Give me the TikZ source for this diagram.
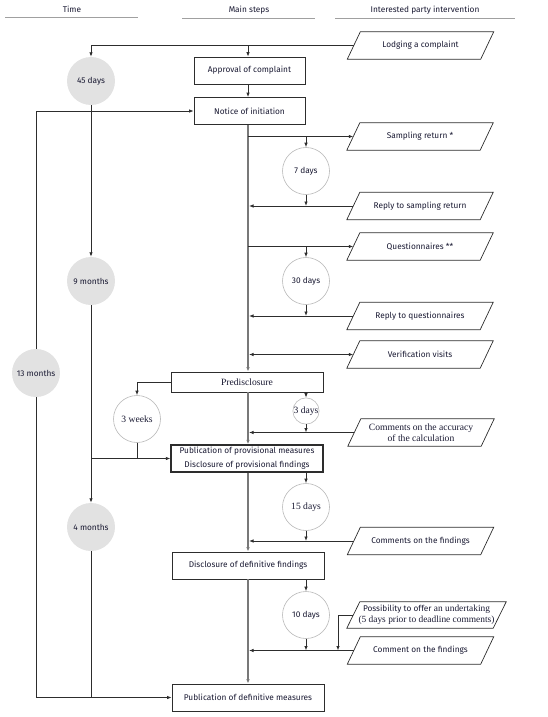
\documentclass[tikz,border=0pt]{standalone}
\usepackage{fontspec}
\setmainfont{Liberation Serif}
\setsansfont{Fira Sans}
\usetikzlibrary{arrows.meta,calc}
\definecolor{txt}{RGB}{25,25,50}
\definecolor{ln}{RGB}{45,45,45}
\definecolor{mainln}{RGB}{120,120,120}
\definecolor{cfill}{RGB}{226,226,226}
\definecolor{cline}{RGB}{185,185,185}
\definecolor{hdr}{RGB}{160,160,160}
\newcommand{\sansf}{\sffamily\fontsize{8.3}{10}\selectfont}
\newcommand{\seriff}{\rmfamily\fontsize{9.6}{11.5}\selectfont}
\tikzset{
  sanstxt/.style={font=\sansf, text=txt},
  seriftxt/.style={font=\seriff, text=txt},
  stepbox/.style={draw=ln, line width=0.8pt, rectangle, inner sep=0pt, minimum height=27pt, sanstxt, align=center},
  para/.style={rectangle, inner sep=0pt, minimum width=133pt, minimum height=27pt, sanstxt, align=center},
  parashape/.style={draw=ln, line width=0.7pt},
  timec/.style={circle, fill=cfill, inner sep=0pt, minimum size=48pt, sanstxt},
  durc/.style={circle, draw=cline, fill=white, line width=0.6pt, inner sep=0pt, minimum size=47pt, seriftxt},
  conn/.style={draw=ln, line width=0.8pt},
  arr/.style={conn, -{Latex[length=4.5pt,width=3.5pt]}},
  mainarr/.style={draw=mainln, line width=1.4pt, -{Latex[length=4.5pt,width=3.5pt]}},
}
\begin{document}
\begin{tikzpicture}[x=1pt,y=-1pt]
\useasboundingbox (0,0) rectangle (548,717);
\coordinate (mainx) at (248,0);
% headers
\node[sanstxt] (hTime) at (72,9) {Time};
\node[sanstxt] (hMain) at (249,10) {Main steps};
\node[sanstxt] (hInt) at (425,10) {Interested party intervention};
\draw[hdr, line width=0.8pt] (5,17) -- (138,17);
\draw[hdr, line width=0.8pt] (182,18) -- (315,18);
\draw[hdr, line width=0.8pt] (335,18) -- (515,18);
% main step boxes
\node[stepbox, minimum width=111pt] (appr) at (249.5,70.5) {Approval of complaint};
\node[stepbox, minimum width=111pt] (notice) at (249.5,111) {Notice of initiation};
\node[stepbox, minimum width=152pt, minimum height=20pt, seriftxt] (pred) at (247,382) {Predisclosure};
\node[stepbox, minimum width=152pt, line width=1.3pt, font=\sffamily\fontsize{8.3}{14}\selectfont] (pubp) at (247,458.5) {Publication of provisional measures\\Disclosure of provisional findings};
\node[stepbox, minimum width=152pt] (disc) at (248,565.5) {Disclosure of definitive findings};
\node[stepbox, minimum width=152pt] (pubd) at (248,697.5) {Publication of definitive measures};
% parallelograms
\node[para] (lodge) at (420.5,45.5) {Lodging a complaint};
\node[para] (samp) at (420,136.5) {Sampling return *};
\node[para] (reps) at (420,206) {Reply to sampling return};
\node[para] (quest) at (420,246.5) {Questionnaires **};
\node[para] (repq) at (420,316) {Reply to questionnaires};
\node[para] (verif) at (420,354.5) {Verification visits};
\node[para, seriftxt] (acc) at (421,432.5) {Comments on the accuracy\\of the calculation};
\node[para] (comf) at (420.5,541) {Comments on the findings};
\node[para, minimum width=146pt, minimum height=26pt, font=\sffamily\fontsize{8.3}{11}\selectfont] (poss) at (426.5,615) {Possibility to offer {\rmfamily\fontsize{9.4}{11}\selectfont an undertaking}\\{\rmfamily\fontsize{9.4}{11}\selectfont (5 days prior to deadline comments)}};
\node[para] (coms) at (420.5,650.5) {Comment on the findings};
\foreach \n in {lodge,samp,reps,quest,repq,verif,acc,comf,poss,coms}{
  \draw[parashape] ([xshift=-6.5pt]\n.south west) -- ([xshift=6.5pt]\n.north west) -- ([xshift=6.5pt]\n.north east) -- ([xshift=-6.5pt]\n.south east) -- cycle;
}
% time circles
\node[timec] (c45) at (91,81) {45 days};
\node[timec] (c9m) at (91,281) {9 months};
\node[timec] (c4m) at (91,527) {4 months};
\node[timec] (c13) at (36,373) {13 months};
% duration circles
\node[durc, font=\sansf] (c7) at (306,171) {7 days};
\node[durc, font=\sansf] (c30) at (306,281) {30 days};
\node[durc] (c3w) at (137,419) {3 weeks};
\node[durc, minimum size=26pt] (c3d) at (306,411) {3 days};
\node[durc] (c15) at (306,507) {15 days};
\node[durc, font=\sansf] (c10) at (306,615) {10 days};
% main line
\draw[mainarr] (notice.south -| mainx) -- (pred.north -| mainx);
\draw[mainarr] (pred.south -| mainx) -- (pubp.north -| mainx);
\draw[mainarr] (pubp.south -| mainx) -- (disc.north -| mainx);
\draw[mainarr] (disc.south -| mainx) -- (pubd.north -| mainx);
% top connectors
\draw[arr] (lodge.west) -| (c45.north);
\draw[arr] (lodge.west -| mainx) -- (appr.north -| mainx);
\draw[arr] (appr.south -| mainx) -- (notice.north -| mainx);
\draw[arr] (c13.north) |- (notice.west);
% time line
\draw[arr] (c45.south) -- (c9m.north);
\draw[arr] (c9m.south) -- (c4m.north);
\draw[conn] (c4m.south) -- (c4m |- pubd.west);
\draw[arr] (c13.south) |- (pubd.west);
\draw[arr] (c9m |- pubp.west) -- (pubp.west);
% sampling
\draw[arr] (samp.west -| mainx) -- (samp.west);
\draw[arr] (c7 |- samp.west) -- (c7.north);
\draw[arr] (c7.south) -- (c7 |- reps.west);
\draw[arr, shorten >=1pt] (reps.west) -- (reps.west -| mainx);
% questionnaires
\draw[arr] (quest.west -| mainx) -- (quest.west);
\draw[arr] (c30 |- quest.west) -- (c30.north);
\draw[arr] (c30.south) -- (c30 |- repq.west);
\draw[arr, shorten >=1pt] (repq.west) -- (repq.west -| mainx);
% verification
\draw[conn, {Latex[length=4.5pt,width=3.5pt]}-{Latex[length=4.5pt,width=3.5pt]}, shorten <=1pt] (verif.west -| mainx) -- (verif.west);
% predisclosure
\draw[arr] (pred.west) -| (c3w.north);
\draw[conn] (c3w.south) -- (c3w |- pubp.west);
\draw[arr] (pred.south -| c3d) -- (c3d.north);
\draw[arr] (c3d.south) -- (c3d |- acc.west);
\draw[arr, shorten >=1pt] (acc.west) -- (acc.west -| mainx);
% provisional
\draw[arr] (pubp.south -| c15) -- (c15.north);
\draw[arr] (c15.south) -- (c15 |- comf.west);
\draw[arr, shorten >=1pt] (comf.west) -- (comf.west -| mainx);
% definitive
\draw[arr] (disc.south -| c10) -- (c10.north);
\draw[arr] (c10.south) -- (c10 |- coms.west);
\draw[arr, shorten >=1pt] (coms.west) -- (coms.west -| mainx);
\coordinate (pk) at (338,616);
\draw[arr] (poss.west) -| (pk |- coms.west);
\end{tikzpicture}
\end{document}
